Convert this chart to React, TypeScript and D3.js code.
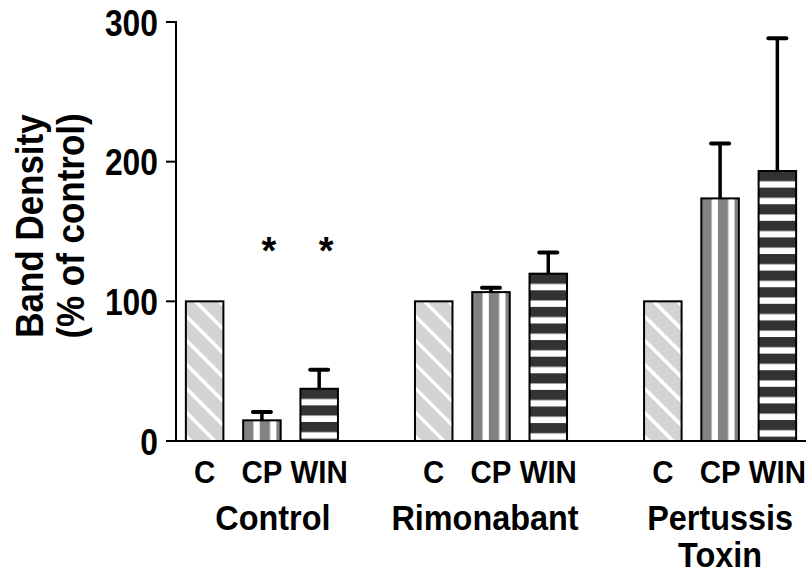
import React from "react";
import * as d3 from "d3";

const groups = ["Control", "Rimonabant", "Pertussis Toxin"];
const treatments = ["C", "CP", "WIN"];
// values [group][treatment]
const meanC = [100, 100, 100];
const meanCP = [14.8, 106.6, 173.7];
const semCP = [6.0, 3.1, 39.3];
const meanWIN = [37.4, 119.8, 193.3];
const semWIN = [13.6, 15.2, 95.0];
const significance = [
  ["", "*", "*"],
  ["", "", ""],
  ["", "", ""],
];
const yTicks = [0, 100, 200, 300];

const W = 811;
const H = 574;
const FONT = "'Liberation Sans', Arial, Helvetica, sans-serif";

type Bar = {
  key: string;
  group: string;
  gi: number;
  treatment: string;
  ti: number;
  value: number;
  sem: number;
  sig: string;
};

export default function App() {
  const bars: Bar[] = [];
  groups.forEach((g, gi) => {
    treatments.forEach((t, ti) => {
      const value = ti === 0 ? meanC[gi] : ti === 1 ? meanCP[gi] : meanWIN[gi];
      const sem = ti === 0 ? 0 : ti === 1 ? semCP[gi] : semWIN[gi];
      bars.push({ key: `${g}-${t}`, group: g, gi, treatment: t, ti, value, sem, sig: significance[gi][ti] });
    });
  });

  // slot domain: 3 bars per group plus a spacer slot between groups
  const slots: string[] = [];
  groups.forEach((g, gi) => {
    treatments.forEach((t) => slots.push(`${g}-${t}`));
    if (gi < groups.length - 1) slots.push(`gap-${gi}`);
  });

  const x0 = 176;
  const x1 = 806;
  const x = d3.scaleBand<string>().domain(slots).range([x0, x1]).padding(0);
  const y = d3.scaleLinear().domain([0, 300]).range([441, 22]);
  const barW = x.bandwidth() * 0.655;
  const cx = (k: string) => (x(k) as number) + x.bandwidth() / 2;

  const patternPeriod = 16.6;

  return (
    <svg
      width={W}
      height={H}
      style={{ position: "absolute", left: 0, top: 0, background: "#fff" }}
      fontFamily={FONT}
      fontWeight="bold"
    >
      <defs>
        {bars.map((b) => {
          const bx = cx(b.key) - barW / 2;
          const by = y(b.value);
          if (b.ti === 0) {
            return (
              <pattern
                key={b.key}
                id={`pat-${b.gi}-${b.ti}`}
                patternUnits="userSpaceOnUse"
                width={17}
                height={17}
                x={bx}
                y={by}
                patternTransform={`rotate(-45 ${bx} ${by})`}
              >
                <rect width={17} height={17} fill="#d3d3d3" />
                <rect x={5} width={3.5} height={17} fill="#fff" />
              </pattern>
            );
          }
          if (b.ti === 1) {
            return (
              <pattern
                key={b.key}
                id={`pat-${b.gi}-${b.ti}`}
                patternUnits="userSpaceOnUse"
                width={patternPeriod}
                height={10}
                x={bx}
                y={0}
              >
                <rect width={patternPeriod} height={10} fill="#fff" />
                <rect width={10.3} height={10} fill="#828282" />
              </pattern>
            );
          }
          return (
            <pattern
              key={b.key}
              id={`pat-${b.gi}-${b.ti}`}
              patternUnits="userSpaceOnUse"
              width={10}
              height={patternPeriod}
              x={0}
              y={by}
            >
              <rect width={10} height={patternPeriod} fill="#fff" />
              <rect width={10} height={10.2} fill="#333333" />
            </pattern>
          );
        })}
      </defs>

      {/* bars */}
      {bars.map((b) => {
        const bx = cx(b.key) - barW / 2;
        return (
          <rect
            key={b.key}
            x={bx}
            y={y(b.value)}
            width={barW}
            height={y(0) - y(b.value)}
            fill={`url(#pat-${b.gi}-${b.ti})`}
            stroke="#000"
            strokeWidth={2}
          />
        );
      })}

      {/* error bars */}
      {bars
        .filter((b) => b.sem > 0)
        .map((b) => {
          const c = cx(b.key);
          return (
            <g key={`err-${b.key}`} stroke="#000">
              <line x1={c} x2={c} y1={y(b.value)} y2={y(b.value + b.sem)} strokeWidth={3.5} />
              <line
                x1={c - 9}
                x2={c + 9}
                y1={y(b.value + b.sem)}
                y2={y(b.value + b.sem)}
                strokeWidth={4}
                strokeLinecap="round"
              />
            </g>
          );
        })}

      {/* significance */}
      {bars
        .filter((b) => b.sig)
        .map((b) => (
          <text
            key={`sig-${b.key}`}
            x={cx(b.key) + 7}
            y={264}
            fontSize={38}
            textAnchor="middle"
            fill="#000"
          >
            {b.sig}
          </text>
        ))}

      {/* axes */}
      <line x1={x0} x2={x0} y1={y(300) - 1} y2={y(0) + 1} stroke="#000" strokeWidth={2} />
      <line x1={x0 - 1} x2={x1} y1={y(0)} y2={y(0)} stroke="#000" strokeWidth={2} />
      {yTicks.map((t) => (
        <g key={`yt-${t}`}>
          <line x1={x0 - 10} x2={x0} y1={y(t)} y2={y(t)} stroke="#000" strokeWidth={2} />
          <text
            transform={`translate(${x0 - 18},${y(t) + 13.5}) scale(0.86,1)`}
            fontSize={37}
            textAnchor="end"
            fill="#000"
          >
            {t}
          </text>
        </g>
      ))}

      {/* y title */}
      <text
        transform={`translate(43,${226}) rotate(-90) scale(0.92,1)`}
        fontSize={38}
        textAnchor="middle"
        fill="#000"
      >
        Band Density
      </text>
      <text
        transform={`translate(84,${226}) rotate(-90) scale(0.92,1)`}
        fontSize={38}
        textAnchor="middle"
        fill="#000"
      >
        (% of control)
      </text>

      {/* treatment labels */}
      {bars.map((b) => (
        <text
          key={`tl-${b.key}`}
          transform={`translate(${cx(b.key)},483) scale(0.92,1)`}
          fontSize={32}
          textAnchor="middle"
          fill="#000"
        >
          {b.treatment}
        </text>
      ))}

      {/* group labels */}
      {groups.map((g, gi) => {
        const c = cx(`${g}-${treatments[1]}`);
        const words = g.split(" ");
        return (
          <g key={`gl-${g}`}>
            {words.map((w, wi) => (
              <text
                key={w}
                transform={`translate(${c + (gi === 0 ? 11 : gi === 1 ? -6 : 0)},${530 + wi * 37}) scale(0.9,1)`}
                fontSize={36}
                textAnchor="middle"
                fill="#000"
              >
                {w}
              </text>
            ))}
          </g>
        );
      })}
    </svg>
  );
}
